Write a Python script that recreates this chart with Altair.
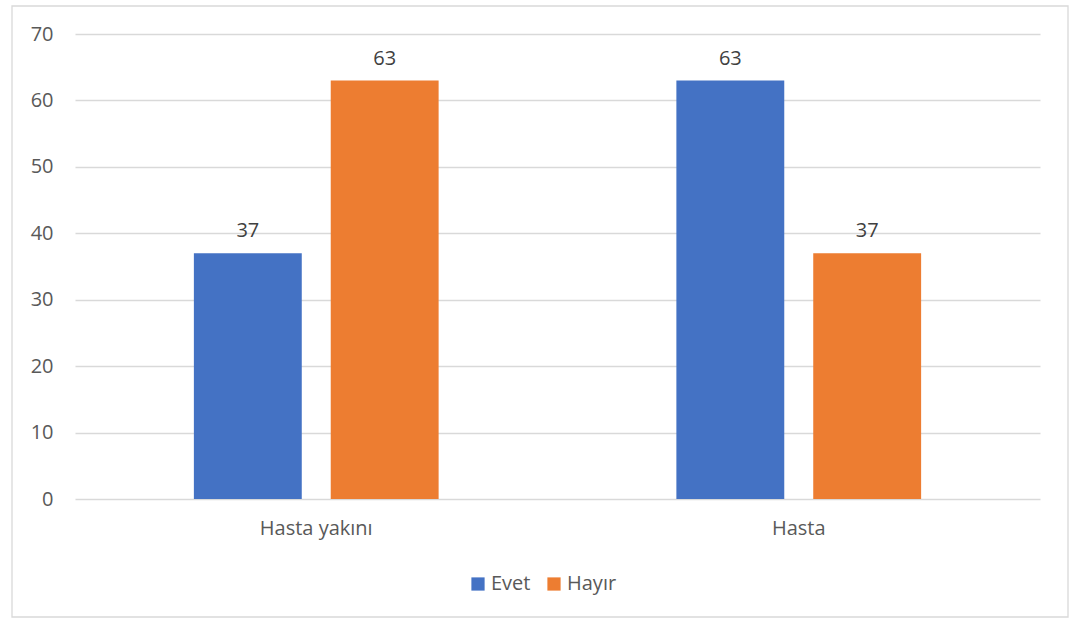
import altair as alt
import pandas as pd

categories = ["Hasta yakını", "Hasta"]
series = ["Evet", "Hayır"]
evet = [37, 63]
hayir = [63, 37]
colors = ["#4472C4", "#ED7D31"]

rows = []
for i, c in enumerate(categories):
    rows.append({"grup": c, "yanit": "Evet", "deger": evet[i]})
    rows.append({"grup": c, "yanit": "Hayır", "deger": hayir[i]})
df = pd.DataFrame(rows)

FONT = "Open Sans"
FS = 20
W, H = 965, 465

x_enc = alt.X("grup:N", sort=categories,
              scale=alt.Scale(paddingInner=0, paddingOuter=0),
              axis=alt.Axis(title=None, labelAngle=0, domain=False, ticks=False,
                            labelPadding=19, labelFontSize=FS, labelColor="#595959",
                            labelFont=FONT))
xoff = alt.XOffset("yanit:N", sort=series,
                   scale=alt.Scale(paddingInner=0.2117, paddingOuter=0.8686))
y_enc = alt.Y("deger:Q", scale=alt.Scale(domain=[0, 70]),
              axis=alt.Axis(title=None, values=list(range(0, 71, 10)), domain=False,
                            ticks=False, labelPadding=22, labelFontSize=FS,
                            labelColor="#595959", labelFont=FONT,
                            gridColor="#d9d9d9", gridWidth=1.3))

border = alt.Chart(pd.DataFrame({"a": [0]})).mark_rect(
    fill=None, fillOpacity=0, stroke="#d9d9d9", strokeWidth=1.3
).encode(x=alt.value(-63), x2=alt.value(993), y=alt.value(-28), y2=alt.value(583))

bars = alt.Chart(df).mark_bar().encode(
    x=x_enc, xOffset=xoff, y=y_enc,
    color=alt.Color("yanit:N", sort=series,
                    scale=alt.Scale(domain=series, range=colors),
                    legend=alt.Legend(title=None, orient="none", direction="horizontal",
                                      legendX=393, legendY=540, symbolType="square",
                                      symbolSize=175, symbolStrokeWidth=0,
                                      labelFontSize=FS, labelColor="#595959",
                                      labelFont=FONT, columnPadding=13,
                                      labelOffset=3))
)

labels = alt.Chart(df).mark_text(
    baseline="bottom", dy=-12, fontSize=FS, color="#404040", font=FONT
).encode(
    x=alt.X("grup:N", sort=categories), xOffset=alt.XOffset("yanit:N", sort=series),
    y="deger:Q", text="deger:Q"
)

chart = alt.layer(bars, labels, border).properties(
    width=W, height=H,
    padding={"left": 75, "top": 34, "right": 30, "bottom": 123},
    autosize=alt.AutoSizeParams(type="none"),
    background="white",
).configure_view(stroke=None)

chart.save("out.html", embed_options={"renderer": "svg", "actions": False})
